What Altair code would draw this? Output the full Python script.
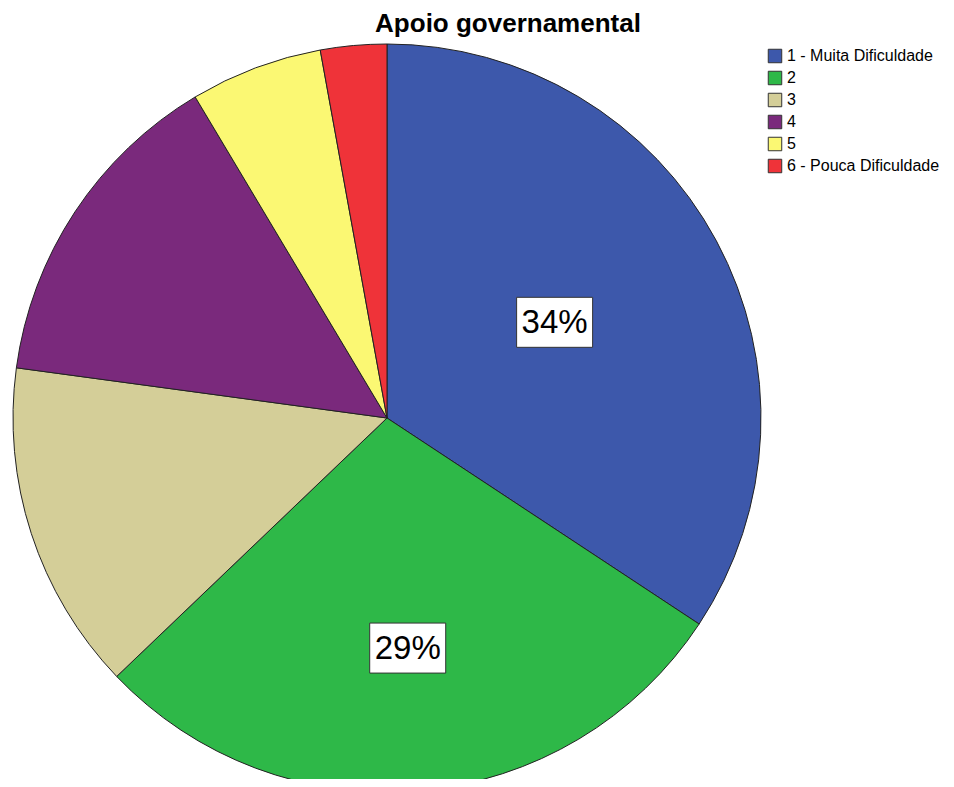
import altair as alt
import pandas as pd

categories = ["1 - Muita Dificuldade", "2", "3", "4", "5", "6 - Pouca Dificuldade"]
counts = [12, 10, 5, 5, 2, 1]
colors = ["#3D58AB", "#2EB848", "#D4CE98", "#7A297C", "#FBF873", "#EF3339"]

df = pd.DataFrame({"cat": categories, "count": counts, "idx": list(range(len(categories)))})

CX, CY, R = 379, 370, 374

base = alt.Chart(df)

pie = base.mark_arc(radius=R, stroke="#222222", strokeWidth=1).encode(
    theta=alt.Theta("count:Q", stack=True),
    color=alt.Color(
        "cat:N",
        scale=alt.Scale(domain=categories, range=colors),
        legend=alt.Legend(
            title=None,
            orient="none",
            legendX=759,
            legendY=0,
            symbolType="square",
            symbolSize=182,
            symbolStrokeColor="#333333",
            symbolStrokeWidth=1,
            symbolOpacity=1,
            labelFontSize=16,
            labelFont="Liberation Sans",
            labelColor="#000000",
            labelOffset=4,
            rowPadding=4,
            padding=0,
            labelLimit=300,
        ),
    ),
    order=alt.Order("idx:Q", sort="ascending"),
    x=alt.value(CX),
    y=alt.value(CY),
)

lab = (
    base.transform_window(cum="sum(count)", sort=[alt.SortField("idx")], frame=[None, 0])
    .transform_joinaggregate(total="sum(count)")
    .transform_calculate(
        pct="datum.count / datum.total",
        mid="(datum.cum - datum.count / 2) / datum.total * 2 * PI",
    )
    .transform_calculate(
        ang="datum.idx == 0 ? datum.mid - 0.025 : datum.mid",
        r="datum.idx == 0 ? 193 : 231",
    )
    .transform_calculate(
        px=f"{CX} + datum.r * sin(datum.ang)",
        py=f"{CY} - datum.r * cos(datum.ang)",
        label="format(datum.pct, '.0%')",
    )
    .transform_filter("datum.pct >= 0.2")
)

box = lab.mark_point(
    shape="M-1,-0.658L1,-0.658L1,0.658L-1,0.658Z",
    size=5776,
    filled=True,
    fill="white",
    stroke="#333333",
    strokeWidth=1,
    opacity=1,
).encode(
    x=alt.X("px:Q", scale=None, axis=None),
    y=alt.Y("py:Q", scale=None, axis=None),
)

txt = lab.mark_text(
    fontSize=33, font="Liberation Sans", color="#000000", align="center", baseline="middle", dy=1
).encode(
    x=alt.X("px:Q", scale=None, axis=None),
    y=alt.Y("py:Q", scale=None, axis=None),
    text="label:N",
)

chart = (
    alt.layer(pie, box, txt)
    .properties(
        width=938,
        height=731,
        autosize=alt.AutoSizeParams(type="none"),
        padding={"left": 0, "top": 40, "right": 0, "bottom": 0},
        title=alt.TitleParams(
            "Apoio governamental",
            fontSize=26,
            font="Liberation Sans",
            fontWeight="bold",
            color="#000000",
            anchor="middle",
            dx=31,
            offset=5,
        ),
    )
    .configure_view(stroke=None)
)

chart.save("out.html", embed_options={"renderer": "svg", "actions": False})
